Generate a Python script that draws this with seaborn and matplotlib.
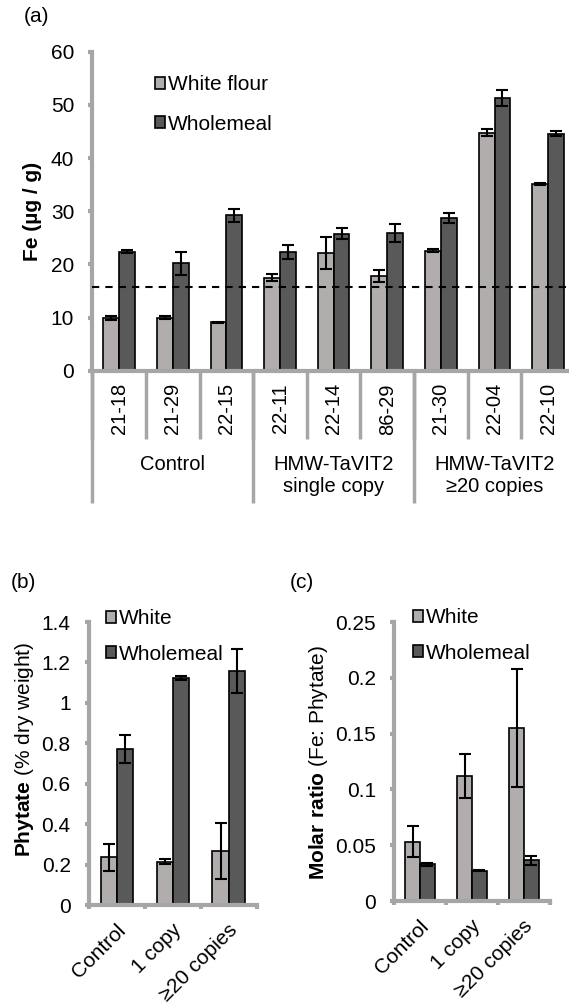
import numpy as np
import pandas as pd
import seaborn as sns
import matplotlib.pyplot as plt
from matplotlib.ticker import FuncFormatter
from matplotlib.transforms import ScaledTranslation

# (a) Fe concentration in each line
lines = ["21-18", "21-29", "22-15", "22-11", "22-14", "86-29", "21-30", "22-04", "22-10"]
groups = ["Control", "HMW-TaVIT2\nsingle copy", "HMW-TaVIT2\n\u226520 copies"]
fe_white = [9.9, 10.0, 9.1, 17.5, 22.1, 17.8, 22.6, 44.8, 35.1]
fe_white_sd = [0.4, 0.3, 0.1, 0.6, 3.0, 1.2, 0.2, 0.6, 0.15]
fe_whole = [22.4, 20.2, 29.2, 22.4, 25.8, 25.9, 28.7, 51.3, 44.6]
fe_whole_sd = [0.3, 2.2, 1.2, 1.3, 1.0, 1.6, 1.0, 1.5, 0.5]
fe_threshold = 15.8

# (b) phytate and (c) Fe:phytate molar ratio
classes = ["Control", "1 copy", "\u226520 copies"]
phy_white = [0.236, 0.215, 0.267]
phy_white_sd = [0.066, 0.012, 0.138]
phy_whole = [0.771, 1.122, 1.158]
phy_whole_sd = [0.07, 0.011, 0.109]
ratio_white = [0.053, 0.112, 0.155]
ratio_white_sd = [0.014, 0.020, 0.053]
ratio_whole = [0.0328, 0.0272, 0.0367]
ratio_whole_sd = [0.001, 0.0005, 0.004]

LIGHT = "#b1adad"
DARK = "#595959"
GREY = "#a6a6a6"

plt.rcParams['font.family'] = ['Liberation Sans', 'DejaVu Sans']
plt.rcParams['mathtext.fontset'] = 'custom'
plt.rcParams['mathtext.rm'] = 'Liberation Sans'
plt.rcParams['mathtext.bf'] = 'Liberation Sans:bold'

W, H = 569, 1005
fig = plt.figure(figsize=(W / 100, H / 100), dpi=100)


def px_axes(left, right, top, bottom):
    return fig.add_axes([left / W, 1 - bottom / H, (right - left) / W, (bottom - top) / H])


def bar_panel(ax, cats, white, white_sd, whole, whole_sd, names, width):
    df = pd.DataFrame({
        "cat": cats + cats,
        "type": [names[0]] * len(cats) + [names[1]] * len(cats),
        "val": white + whole,
    })
    sns.barplot(data=df, x="cat", y="val", hue="type", order=cats, hue_order=names,
                palette=[LIGHT, DARK], saturation=1, width=width, gap=0,
                edgecolor="black", linewidth=1.2, errorbar=None, legend=False, ax=ax)
    bars = list(ax.containers)
    for cont, sd in zip(bars, [white_sd, whole_sd]):
        xs = [p.get_x() + p.get_width() / 2 for p in cont]
        ys = [p.get_height() for p in cont]
        ax.errorbar(xs, ys, yerr=sd, fmt="none", ecolor="black", elinewidth=1.5,
                    capsize=4.5, capthick=1.5, zorder=5)
    for s in ["top", "right"]:
        ax.spines[s].set_visible(False)
    for s in ["left", "bottom"]:
        ax.spines[s].set_color(GREY)
        ax.spines[s].set_linewidth(3)
    ax.set_xlim(-0.5, len(cats) - 0.5)
    ax.set_xlabel("")
    ax.yaxis.set_major_formatter(FuncFormatter(lambda v, p: f"{round(v, 4):g}"))
    ax.tick_params(axis="y", length=3, width=3, color=GREY, labelsize=15, pad=10)
    ax.set_xticks(np.arange(-0.5, len(cats), 1), minor=True)
    return bars


def legend_at(ax, bars, names, x, y, spacing):
    ax.legend(bars, names, loc="upper left", bbox_to_anchor=(x / W, 1 - y / H),
              bbox_transform=fig.transFigure, frameon=False, borderpad=0, borderaxespad=0,
              handlelength=0.5, handleheight=0.5, handletextpad=0.1,
              labelspacing=spacing, fontsize=15)


# ---------------- (a)
ax = px_axes(92.3, 575, 51.7, 370.7)
bars = bar_panel(ax, lines, fe_white, fe_white_sd, fe_whole, fe_whole_sd,
                 ["White flour", "Wholemeal"], 0.59)
ax.axhline(fe_threshold, color="black", lw=1.5, ls=(0, (3.5, 2.9)), zorder=6)
ax.set_ylim(0, 60)
ax.set_yticks(np.arange(0, 61, 10))
ax.set_ylabel("Fe (\u00b5g / g)", fontsize=15, fontweight="bold")
ax.yaxis.set_label_coords(-0.123, 0.5)
ax.yaxis.label.set_va("center")
ax.set_xticks(range(len(lines)), lines, rotation=90, fontsize=14.5)
ax.tick_params(axis="x", which="major", length=0, pad=9)
ax.tick_params(axis="x", which="minor", length=49, width=2.5, color=GREY)
sec = ax.secondary_xaxis("bottom")
sec.spines["bottom"].set_visible(False)
sec.set_xticks([-0.5, 2.5, 5.5, 8.5], ["", "", "", ""])
sec.tick_params(which="major", length=95, width=2.5, color=GREY)
sec.set_xticks([1, 4, 7], groups, minor=True)
sec.tick_params(which="minor", length=0, pad=61, labelsize=14.5)
legend_at(ax, bars, ["White flour", "Wholemeal"], 155, 75, 1.0)
fig.text(24 / W, 1 - 17 / H, "(a)", fontsize=15, va="center", ha="left")


def rotate_labels(ax, cats):
    ax.set_xticks(range(len(cats)), cats, rotation=45, ha="right", va="center",
                  rotation_mode="anchor", fontsize=15)
    ax.tick_params(axis="x", which="major", length=0, pad=16)
    ax.tick_params(axis="x", which="minor", length=3, width=3, color=GREY)
    for lab in ax.get_xticklabels():
        lab.set_transform(lab.get_transform() + ScaledTranslation(4 / 72, 0, fig.dpi_scale_trans))


# ---------------- (b)
ax = px_axes(88.8, 256.7, 622, 905)
bars = bar_panel(ax, classes, phy_white, phy_white_sd, phy_whole, phy_whole_sd,
                 ["White", "Wholemeal"], 0.58)
ax.set_ylim(0, 1.4)
ax.set_yticks(np.arange(0, 1.41, 0.2))
ax.set_ylabel(r"$\mathbf{Phytate}$ (% dry weight)", fontsize=15)
ax.yaxis.set_label_coords(-0.38, 0.55)
ax.yaxis.label.set_va("center")
rotate_labels(ax, classes)
legend_at(ax, bars, ["White", "Wholemeal"], 106, 609, 0.8)
fig.text(11 / W, 1 - 582 / H, "(b)", fontsize=15, va="center", ha="left")

# ---------------- (c)
ax = px_axes(394, 550, 622, 901)
bars = bar_panel(ax, classes, ratio_white, ratio_white_sd, ratio_whole, ratio_whole_sd,
                 ["White", "Wholemeal"], 0.575)
ax.set_ylim(0, 0.25)
ax.set_yticks(np.arange(0, 0.251, 0.05))
ax.set_ylabel(r"$\mathbf{Molar\ ratio}$ (Fe: Phytate)", fontsize=15)
ax.yaxis.set_label_coords(-0.487, 0.495)
ax.yaxis.label.set_va("center")
rotate_labels(ax, classes)
legend_at(ax, bars, ["White", "Wholemeal"], 413, 608, 0.8)
fig.text(290 / W, 1 - 582 / H, "(c)", fontsize=15, va="center", ha="left")

fig.savefig("out.png", dpi=100)
